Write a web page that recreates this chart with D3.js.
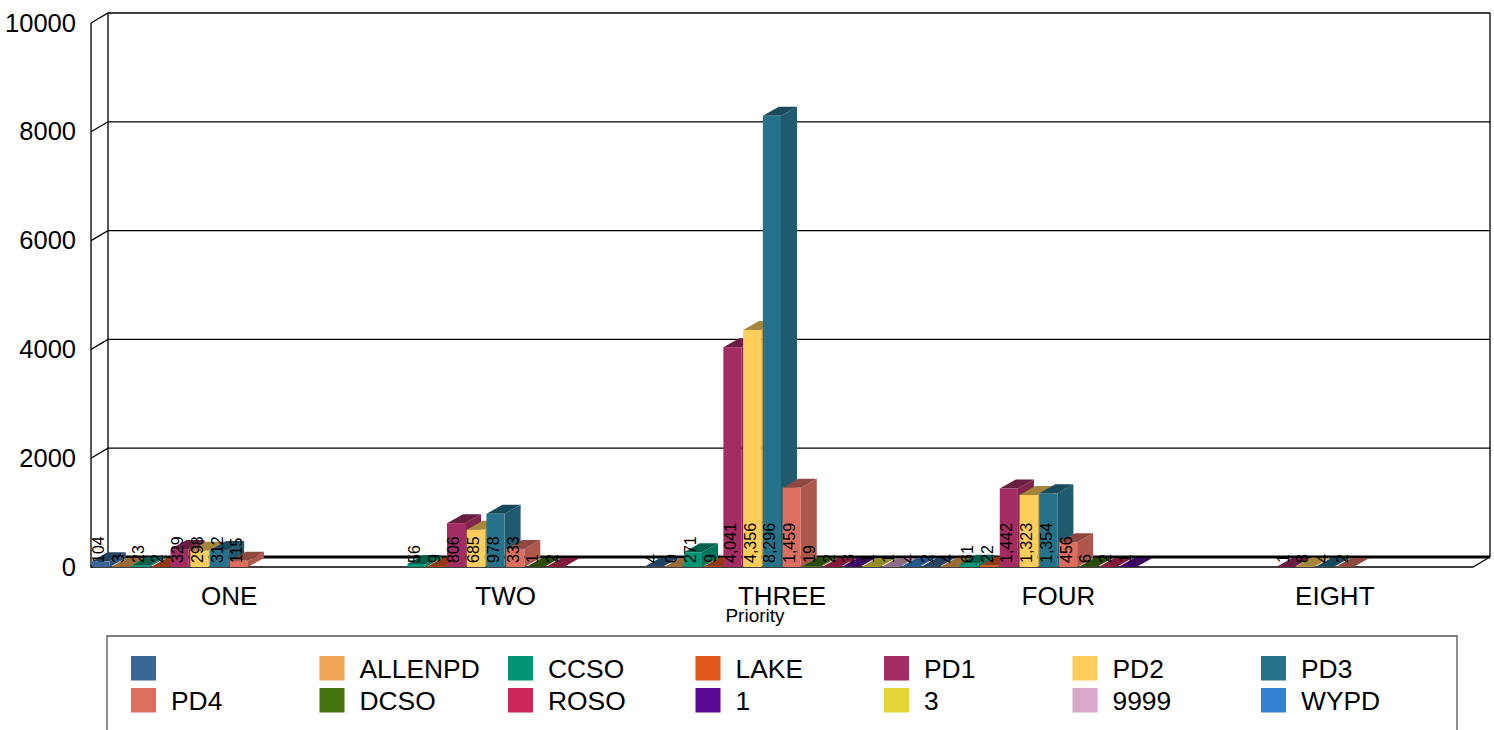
<!DOCTYPE html>
<html>
<head>
<meta charset="utf-8">
<script src="https://cdn.jsdelivr.net/npm/d3@7"></script>
<style>
  html, body { margin: 0; padding: 0; background: #fff; overflow: hidden; }
  svg { display: block; }
  text { font-family: "Liberation Sans", Arial, sans-serif; fill: #000; }
</style>
</head>
<body>
<svg class="container" width="1494" height="730"></svg>
<script>
const categories = ["ONE", "TWO", "THREE", "FOUR", "EIGHT"];
const seriesNames = ["", "ALLENPD", "CCSO", "LAKE", "PD1", "PD2", "PD3", "PD4", "DCSO", "ROSO", "1", "3", "9999", "WYPD"];
const seriesColors = ["#3b6698", "#f0a354", "#009475", "#e0581c", "#a32d62", "#ffcd5c", "#27728b", "#dc6e60", "#447310", "#c9265a", "#5c0a96", "#e3d636", "#d9a7c9", "#3582d2"];
const yTicks = [0, 2000, 4000, 6000, 8000, 10000];

// one array per priority, same order as seriesNames, null = no bar
const one = [104, 3, 23, 2, 329, 298, 312, 115, null, null, null, null, null, null];
const two = [null, null, 56, 9, 806, 685, 978, 333, 1, 2, null, null, null, null];
const three = [4, 0, 271, 9, 4041, 4356, 8296, 1459, 19, 2, 3, 1, 1, 4];
const four = [2, 4, 61, 22, 1442, 1323, 1354, 456, 6, 2, 1, null, null, null];
const eight = [null, null, null, null, 1, 8, 4, 2, null, null, null, null, null, null];
const priorityValues = [one, two, three, four, eight];

const dx = 17, dy = -10; // wall depth
const barDx = 16, barDy = -9; // bar depth
const plot = { left: 91, right: 1473, bottom: 567, top: 23 };

const svg = d3.select(".container");

const xScale = d3.scaleBand().domain(categories).range([plot.left, plot.right]);
const xSlot = d3.scaleBand().domain(d3.range(seriesNames.length)).range([0, xScale.bandwidth()]);
const yScale = d3.scaleLinear().domain([0, 10000]).range([plot.bottom, plot.top]);
const barW = xSlot.bandwidth() - 1.6;

// walls
const walls = svg.append("g").attr("fill", "none").attr("stroke", "#000");
walls.selectAll(".grid").data(yTicks).join("path")
  .attr("class", "grid")
  .attr("stroke-width", d => d === 0 ? 2.8 : 1.3)
  .attr("d", d => `M${plot.left},${yScale(d)}L${plot.left + dx},${yScale(d) + dy}L${plot.right + dx},${yScale(d) + dy}`);
walls.append("path").attr("stroke-width", 1.3)
  .attr("d", `M${plot.left},${plot.top}V${plot.bottom}H${plot.right}L${plot.right + dx},${plot.bottom + dy}V${plot.top + dy}M${plot.left + dx},${plot.top + dy}V${plot.bottom + dy}`);

// bars, left to right so each one covers the side of the one before
const bars = [];
categories.forEach((cat, c) => {
  priorityValues[c].forEach((v, s) => {
    if (v !== null) bars.push({ cat, s, v });
  });
});

const barG = svg.selectAll(".bar").data(bars).join("g").attr("class", "bar");
const bx = d => xScale(d.cat) + xSlot(d.s) + 0.6;

barG.append("path") // side
  .attr("fill", d => d3.rgb(seriesColors[d.s]).darker(0.66))
  .attr("d", d => `M${bx(d) + barW},${plot.bottom}l${barDx},${barDy}V${yScale(d.v) + barDy}l${-barDx},${-barDy}Z`);
barG.append("path") // top
  .attr("fill", d => d3.rgb(seriesColors[d.s]).darker(1.2))
  .attr("d", d => `M${bx(d)},${yScale(d.v)}l${barDx},${barDy}h${barW}l${-barDx},${-barDy}Z`);
barG.append("rect") // front
  .attr("x", bx)
  .attr("y", d => yScale(d.v))
  .attr("width", barW)
  .attr("height", d => plot.bottom - yScale(d.v))
  .attr("fill", d => seriesColors[d.s]);

// data labels sit above all bars
svg.selectAll(".value").data(bars).join("text")
  .attr("class", "value")
  .attr("transform", d => `translate(${bx(d) + 12.5},${plot.bottom - 4}) rotate(-90)`)
  .style("font-size", "16px")
  .text(d => d3.format(",")(d.v));

// y axis
const yAxis = svg.append("g")
  .attr("transform", "translate(84,0)")
  .call(d3.axisLeft(yScale).tickValues(yTicks).tickFormat(d3.format("d")).tickSize(0).tickPadding(8));
yAxis.select(".domain").remove();
yAxis.selectAll("text").style("font-size", "25.5px").style("font-family", "Liberation Sans");

// x axis
const xAxis = svg.append("g")
  .attr("transform", "translate(0,587)")
  .call(d3.axisBottom(xScale).tickSize(0).tickPadding(0));
xAxis.select(".domain").remove();
xAxis.selectAll("text").style("font-size", "26px").style("font-family", "Liberation Sans");

svg.append("text").attr("x", 755).attr("y", 622).attr("text-anchor", "middle")
  .style("font-size", "19px").text("Priority");

// legend, box runs off the bottom of the page
svg.append("path").attr("fill", "none").attr("stroke", "#555").attr("stroke-width", 1.3)
  .attr("d", "M107,730V636H1457V730");

const legendCols = [131, 319.5, 508, 695.5, 884, 1072.5, 1261];
const legendRows = [656, 688];
const legend = svg.selectAll(".legend").data(seriesNames).join("g")
  .attr("class", "legend")
  .attr("transform", (d, i) => `translate(${legendCols[i % 7]},${legendRows[Math.floor(i / 7)]})`);
legend.append("rect").attr("width", 25).attr("height", 24.5).attr("fill", (d, i) => seriesColors[i]);
legend.append("text").attr("x", 40).attr("y", 21.5).style("font-size", "26.4px").text(d => d);
</script>
</body>
</html>
